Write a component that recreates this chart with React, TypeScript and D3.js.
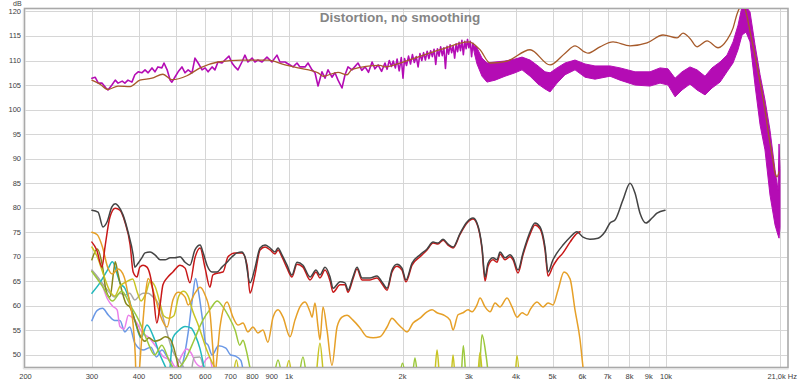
import React from 'react';
import * as d3 from 'd3';

type Pt = [number, number];

// ---------- axis ticks ----------
const xGridHz = [300, 400, 500, 600, 700, 800, 900, 1000, 2000, 3000, 4000, 5000, 6000, 7000, 8000, 9000, 10000, 20000];
const xTickHz = [200, 300, 400, 500, 600, 700, 800, 900, 1000, 2000, 3000, 4000, 5000, 6000, 7000, 8000, 9000, 10000];
const xTickLabels = ['200', '300', '400', '500', '600', '700', '800', '900', '1k', '2k', '3k', '4k', '5k', '6k', '7k', '8k', '9k', '10k'];
const xEndLabel = '21,0k Hz';
const yTicks = [50, 55, 60, 65, 70, 75, 80, 85, 90, 95, 100, 105, 110, 115, 120];
const yUnit = 'dB';
const title = 'Distortion, no smoothing';

// ---------- fundamental (smoothed) ----------
const fundamental: Pt[] = [
  [300, 106.0], [315, 105.2], [331, 104.1], [352, 104.8], [379, 104.7], [402, 106.0], [433, 106.4], [463, 107.2],
  [489, 106.1], [536, 106.9], [581, 108.5], [648, 109.7], [750, 110.1], [880, 110.1], [976, 109.1], [1057, 108.5],
  [1194, 107.5], [1231, 106.8], [1349, 107.6], [1425, 107.1], [1469, 108.2], [1743, 109.0], [1797, 108.7],
  [2006, 109.7], [2516, 112.2], [3000, 113.8], [3211, 112.2], [3414, 109.5], [3789, 109.9], [4359, 112.2],
  [4925, 109.1], [5400, 111.5], [5736, 113.0], [6098, 111.7], [6209, 111.5], [6682, 112.8], [7234, 113.8],
  [8026, 113.0], [8904, 113.6], [9818, 115.2], [10696, 114.6], [11092, 115.6], [11576, 114.5], [12084, 112.8],
  [12846, 114.0], [13740, 112.6], [14512, 114.2], [15058, 116.6], [15432, 119.5], [16008, 121.5], [16400, 119.0],
  [16706, 115.9], [17220, 111.0], [17760, 105.6], [18300, 99.9], [18757, 94.4], [19211, 89.7], [19460, 87.1],
  [19700, 86.3], [19942, 87.3],
];

// ---------- measured SPL (unsmoothed), 300 Hz - 3.1 kHz as a trace ----------
const splTrace: Pt[] = [
  [300, 106.4], [306, 106.6], [312, 105.4], [319, 105.4], [327, 104.4], [331, 104.0], [339, 105.0], [346, 106.0],
  [352, 105.4], [361, 105.8], [367, 105.4], [374, 106.0], [383, 105.6], [390, 107.1], [398, 107.7], [407, 107.5],
  [415, 108.1], [423, 107.5], [433, 108.5], [441, 107.7], [449, 108.7], [460, 108.5], [466, 109.5], [475, 108.1],
  [484, 106.0], [489, 105.6], [498, 106.6], [508, 107.7], [520, 108.7], [530, 107.5], [540, 108.1], [553, 107.5],
  [563, 110.5], [574, 109.5], [588, 108.1], [599, 108.5], [610, 107.7], [625, 108.7], [636, 108.1], [648, 109.7],
  [664, 109.5], [676, 110.1], [693, 110.9], [706, 109.5], [719, 108.7], [732, 108.1], [750, 109.7], [764, 111.1],
  [778, 109.7], [798, 110.5], [812, 109.7], [827, 110.1], [848, 109.7], [874, 110.7], [901, 109.7], [929, 111.1],
  [946, 109.7], [976, 109.7], [1006, 109.1], [1025, 108.7], [1050, 109.5], [1069, 108.7], [1103, 108.7],
  [1123, 109.5], [1151, 108.1], [1172, 107.5], [1194, 104.8], [1223, 107.7], [1246, 106.4], [1269, 108.1],
  [1300, 106.6], [1324, 107.5], [1349, 106.0], [1382, 104.4], [1408, 107.1], [1434, 108.7], [1469, 108.1],
  [1524, 109.5], [1560, 108.0], [1591, 108.7], [1625, 107.6], [1661, 109.7], [1690, 108.3], [1723, 109.1],
  [1760, 107.8], [1797, 109.5], [1820, 108.2], [1845, 110.0], [1870, 108.8], [1890, 109.9], [1915, 108.5],
  [1935, 110.3], [1960, 107.9], [1985, 110.6], [2006, 106.4], [2025, 110.4], [2050, 109.0], [2075, 110.9],
  [2100, 109.3], [2125, 111.2], [2150, 109.6], [2175, 110.8], [2200, 108.7], [2225, 111.4], [2250, 110.0],
  [2275, 111.6], [2300, 110.1], [2325, 111.9], [2350, 110.4], [2375, 112.0], [2400, 110.8], [2425, 112.3],
  [2450, 109.2], [2475, 112.4], [2500, 110.9], [2525, 112.8], [2550, 111.0], [2575, 112.6], [2600, 108.4],
  [2625, 112.9], [2650, 111.3], [2675, 113.2], [2700, 111.6], [2725, 113.0], [2750, 110.5], [2775, 113.4],
  [2800, 111.8], [2825, 113.7], [2850, 112.0], [2875, 114.1], [2900, 111.2], [2925, 113.9], [2950, 112.4],
  [2975, 114.3], [3000, 112.6], [3025, 113.9], [3050, 110.8], [3075, 113.5], [3100, 112.0], [3125, 112.8],
  [3150, 110.6],
];

// ---------- measured SPL above 3 kHz, dense noisy band (upper / lower envelope) ----------
const splBandHz = [
  3100, 3152, 3250, 3350, 3520, 3740, 3976, 4150, 4359,
  4576, 4776, 4925, 5140, 5397, 5736, 6098, 6480, 7103, 7550, 8277, 9069, 9641, 10124, 10568, 11029, 11576,
  12084, 12690, 13244, 13908, 14512, 15058, 15524, 15908, 16300, 16706, 17220, 17760, 18300, 18870, 19460,
  19820, 19942, 20060,
];
const splBandTop = [
  113.0, 112.6, 110.5, 109.5, 109.7, 109.9, 110.3,
  110.7, 110.1, 108.9, 107.7, 107.5, 108.5, 109.5, 110.1, 109.3, 108.9, 108.9, 108.5, 107.7, 107.7, 108.5, 108.3,
  106.4, 107.7, 108.7, 108.1, 106.8, 108.5, 109.7, 111.1, 113.8, 117.2, 121.0, 121.0, 119.9, 113.2, 107.1, 102.0,
  95.8, 87.7, 83.6, 93.0, 88.0,
];
const splBandBot = [
  111.6, 109.3, 106.8, 105.6, 106.0, 106.8, 107.5,
  108.1, 106.8, 105.2, 104.2, 103.6, 105.4, 107.1, 108.1, 106.6, 106.2, 106.8, 106.0, 105.0, 104.8, 105.4, 105.0,
  102.6, 104.0, 105.2, 104.0, 103.0, 104.4, 105.6, 107.7, 109.5, 112.2, 115.2, 115.8, 113.8, 105.0, 96.9, 91.8,
  82.6, 76.5, 74.4, 73.8, 76.0,
];

// ---------- THD ----------
const thd: Pt[] = [
  [300, 79.5], [311.5, 79.1], [321, 76.1], [329, 77.1], [339, 80.2], [346, 80.8], [352, 80.4], [363, 78.5],
  [374, 75.1], [386, 70.4], [390, 67.9], [398, 68.7], [407, 69.8], [415, 70.8], [428, 71.0], [441, 70.4],
  [455, 69.4], [469, 69.4], [484, 69.8], [498, 69.8], [514, 70.0], [530, 68.9], [546, 68.3], [563, 71.4],
  [581, 72.4], [591, 71.0], [606, 68.3], [625, 66.9], [644, 66.9], [664, 67.9], [685, 68.9], [706, 70.0],
  [728, 70.8], [750, 71.0], [764, 70.0], [788, 64.7], [812, 67.7], [838, 71.8], [864, 72.4], [891, 71.8],
  [918, 71.0], [935, 71.8], [958, 70.4], [988, 68.3], [1018, 66.3], [1050, 68.9], [1089, 68.3], [1137, 65.9],
  [1179, 67.3], [1208, 66.3], [1246, 67.9], [1285, 65.9], [1309, 63.6], [1366, 64.9], [1408, 64.7], [1434, 63.2],
  [1478, 65.9], [1515, 67.9], [1562, 65.7], [1640, 65.7], [1711, 66.1], [1764, 64.9], [1820, 63.6], [1876, 67.3],
  [1934, 68.5], [1994, 67.7], [2043, 65.3], [2120, 68.7], [2226, 70.4], [2323, 71.6], [2410, 73.0], [2484, 72.8],
  [2562, 73.6], [2641, 72.6], [2723, 72.0], [2843, 74.8], [2966, 77.1], [3076, 77.9], [3152, 76.9], [3250, 72.0],
  [3311, 65.9], [3372, 68.7], [3477, 69.8], [3562, 69.4], [3629, 71.0], [3741, 69.8], [3857, 70.4], [3928, 69.8],
  [4050, 67.3], [4175, 70.8], [4359, 75.1], [4491, 76.9], [4633, 76.1], [4776, 72.0], [4864, 66.9], [5014, 69.4],
  [5139, 70.8], [5330, 72.4], [5565, 74.0], [5806, 75.1], [6023, 74.0], [6285, 73.6], [6600, 73.8], [6889, 75.1],
  [7103, 76.9], [7322, 77.5], [7688, 81.6], [8026, 85.0], [8274, 83.0], [8531, 78.9], [8851, 76.9], [9181, 77.9],
  [9466, 78.9], [9938, 79.5],
];

// ---------- H2 ----------
const h2: Pt[] = [
  [300, 73.0], [309, 71.4], [319, 67.9], [325, 72.0], [335, 78.1], [346, 79.9], [356, 79.5], [367, 77.1],
  [379, 72.4], [386, 66.9], [395, 65.9], [402, 67.9], [410, 68.3], [420, 67.9], [428, 66.3], [436, 62.8],
  [446, 56.5], [455, 60.2], [463, 64.3], [475, 65.7], [492, 66.9], [514, 68.3], [530, 67.7], [546, 64.7],
  [563, 69.8], [581, 71.8], [599, 67.7], [617, 63.8], [628, 66.3], [648, 66.7], [668, 66.9], [689, 70.0],
  [719, 70.8], [750, 70.8], [774, 68.3], [788, 62.6], [812, 66.3], [838, 71.4], [864, 72.0], [891, 71.4],
  [918, 70.6], [935, 71.4], [958, 70.0], [988, 67.7], [1018, 65.9], [1050, 68.5], [1089, 67.9], [1137, 65.3],
  [1179, 66.9], [1208, 65.7], [1246, 67.3], [1285, 65.1], [1309, 62.8], [1366, 64.3], [1408, 64.3], [1434, 62.8],
  [1478, 65.5], [1515, 67.5], [1562, 65.3], [1640, 65.3], [1711, 65.7], [1764, 64.5], [1820, 63.2], [1876, 66.9],
  [1934, 68.1], [1994, 67.3], [2043, 64.9], [2120, 68.3], [2226, 70.0], [2323, 71.4], [2410, 72.8], [2484, 72.6],
  [2562, 73.4], [2641, 72.4], [2723, 71.8], [2843, 74.6], [2966, 76.9], [3076, 77.7], [3152, 76.7], [3250, 71.6],
  [3311, 65.1], [3372, 68.1], [3477, 69.4], [3562, 68.9], [3629, 70.6], [3741, 69.4], [3857, 70.0], [3928, 69.4],
  [4050, 66.7], [4175, 70.4], [4359, 74.6], [4491, 76.5], [4633, 75.7], [4776, 71.4], [4864, 66.1], [5014, 68.1],
  [5139, 69.4], [5330, 70.8], [5565, 73.0], [5806, 74.8], [5915, 75.1],
];

// ---------- H3 ----------
const h3: Pt[] = [
  [300, 75.0], [310, 74.5], [320, 72.0], [330, 68.0], [340, 66.5], [352, 67.5], [365, 66.0], [375, 62.0],
  [385, 57.0], [391, 50.0], [395, 40.0], [402, 48.0], [410, 57.0], [417, 63.0], [423, 65.6], [441, 61.9],
  [455, 58.2], [475, 55.7], [492, 61.2], [508, 62.8], [530, 61.8], [540, 60.2], [563, 62.6], [581, 63.8],
  [599, 62.2], [617, 58.6], [627, 52.0], [636, 46.0], [645, 50.0], [656, 55.7], [685, 60.8], [710, 57.7],
  [732, 56.1], [755, 56.5], [778, 54.7], [802, 55.7], [827, 54.5], [853, 55.1], [879, 52.6], [907, 57.7],
  [935, 59.2], [964, 57.7], [1006, 53.7], [1037, 57.1], [1069, 59.8], [1103, 60.8], [1137, 58.8], [1151, 57.7],
  [1172, 60.6], [1194, 55.7], [1208, 53.1], [1231, 59.8], [1261, 55.1], [1300, 47.9], [1341, 55.7], [1382, 57.7],
  [1425, 58.1], [1478, 57.1], [1543, 55.5], [1611, 53.7], [1671, 53.5], [1743, 53.7], [1820, 55.7], [1876, 57.5],
  [1934, 56.5], [1994, 55.5], [2056, 54.7], [2133, 56.5], [2226, 57.5], [2323, 58.8], [2395, 59.2], [2470, 58.6],
  [2562, 58.2], [2674, 57.1], [2723, 55.1], [2808, 58.2], [2895, 58.6], [2985, 59.2], [3058, 58.8], [3152, 60.2],
  [3211, 61.6], [3311, 59.8], [3414, 58.8], [3520, 60.6], [3629, 59.8], [3787, 61.6], [3904, 59.8], [4025, 57.7],
  [4150, 58.6], [4278, 58.1], [4359, 59.2], [4547, 60.8], [4718, 59.8], [4864, 60.6], [5014, 60.2], [5169, 63.2],
  [5362, 66.9], [5565, 65.5], [5735, 59.2], [5915, 53.1], [6023, 47.5], [6098, 44.0],
];

// ---------- H4 ----------
const h4: Pt[] = [
  [300, 72.0], [310, 70.0], [320, 67.0], [335, 63.0], [345, 62.0], [356, 64.0], [372, 65.0], [385, 65.5],
  [395, 63.0], [405, 61.0], [417, 62.5], [428, 65.0], [441, 64.0], [455, 60.5], [465, 58.0], [480, 57.5],
  [495, 58.0], [510, 62.0], [525, 63.0], [540, 62.0], [555, 59.0], [575, 56.0], [590, 53.5], [605, 51.0],
  [625, 48.5], [640, 47.0], [660, 44.0], [700, 43.0], [725, 49.0], [745, 44.0], [960, 43.0], [1000, 48.9],
  [1030, 43.0], [1170, 44.0], [1208, 52.4], [1245, 44.0], [2420, 44.0], [2470, 51.0], [2520, 44.0],
  [2680, 44.0], [2723, 50.0], [2770, 44.0], [3150, 44.0], [3211, 50.5], [3280, 44.0], [3960, 44.0],
  [4025, 49.9], [4090, 44.0],
];

// ---------- H5 ----------
const h5: Pt[] = [
  [300, 67.0], [320, 64.0], [340, 61.0], [360, 63.0], [380, 60.0], [400, 57.0], [420, 53.0], [440, 50.0],
  [460, 52.0], [480, 49.0], [500, 47.0], [530, 49.0], [560, 53.0], [590, 57.0], [620, 59.5], [645, 61.0],
  [665, 60.0], [690, 58.0], [720, 55.0], [740, 52.0], [755, 53.0], [770, 51.0], [790, 47.0], [810, 44.0],
  [900, 44.0], [935, 49.0], [970, 44.0], [1050, 44.0], [1089, 49.6], [1125, 44.0], [1940, 44.0], [2000, 48.3],
  [2060, 44.0], [2110, 44.0], [2158, 49.4], [2210, 44.0], [2850, 44.0], [2900, 51.9], [2960, 44.0],
  [3180, 44.0], [3250, 54.1], [3330, 50.0], [3400, 44.0],
];

// ---------- H6 ----------
const h6: Pt[] = [
  [300, 67.3], [315, 65.3], [330, 63.2], [345, 61.8], [356, 62.6], [367, 62.2], [378, 62.6], [390, 61.2],
  [402, 62.2], [410, 62.6], [423, 62.6], [436, 61.8], [450, 60.5], [463, 57.7], [475, 54.5], [490, 51.0],
  [515, 48.5], [530, 47.0], [545, 45.0], [560, 49.5], [580, 49.6], [600, 46.0], [615, 44.0],
];

// ---------- H7 ----------
const h7: Pt[] = [
  [300, 62.6], [315, 64.7], [330, 67.3], [340, 69.0], [350, 66.5], [356, 64.7], [367, 63.6], [375, 61.8],
  [390, 57.0], [405, 53.5], [420, 56.1], [436, 53.9], [455, 50.0], [470, 47.6], [480, 46.0], [492, 53.5],
  [510, 55.0], [530, 55.8], [550, 55.5], [565, 53.9], [580, 51.4], [595, 47.6], [605, 45.0],
];

// ---------- H8 ----------
const h8: Pt[] = [
  [300, 57.0], [310, 59.1], [320, 59.5], [332, 58.1], [345, 57.0], [356, 57.0], [367, 54.7], [378, 55.7],
  [390, 52.4], [410, 51.0], [430, 51.6], [445, 49.6], [460, 51.0], [475, 49.6], [490, 47.6], [505, 45.0],
  [520, 47.6], [540, 54.5], [555, 61.8], [565, 65.6], [575, 63.0], [590, 57.0], [600, 52.6], [610, 52.0],
  [625, 50.0], [650, 51.9], [680, 51.4], [700, 50.0], [720, 49.8], [745, 48.9], [760, 46.0], [775, 44.0],
];

// ---------- H9 ----------
const h9: Pt[] = [
  [300, 67.1], [310, 65.9], [320, 64.1], [330, 61.4], [340, 60.0], [350, 59.2], [356, 55.8], [365, 55.3],
  [375, 58.1], [385, 57.5], [395, 56.5], [405, 54.9], [425, 53.5], [445, 51.6], [465, 49.6], [485, 49.0],
  [500, 47.5], [520, 50.0], [535, 51.2], [550, 50.4], [565, 48.5], [585, 47.6], [600, 48.9], [615, 49.6],
  [630, 46.0], [640, 44.0],
];

// ---------- extra low-level component ----------
const hx: Pt[] = [
  [300, 69.4], [310, 71.6], [320, 68.1], [327, 63.2], [335, 61.8], [342, 66.5], [346, 69.0], [352, 66.5],
  [360, 63.2], [370, 60.4], [378, 59.8], [390, 57.1], [402, 54.1], [415, 52.8], [425, 53.5], [440, 52.8],
  [455, 53.1], [470, 53.7], [483, 53.3], [495, 51.4], [505, 48.7], [515, 46.0], [525, 44.0],
];

const W = 800;
const H = 382;
const L = 25.5;
const R = 787.5;
const T = 9;
const B = 367;

export default function App() {
  const x = d3.scaleLog().domain([200, 21000]).range([L, R]);
  const y = d3.scaleLinear().domain([47.55, 120.5]).range([B, T]);

  const smooth = d3
    .line<Pt>()
    .x((d) => x(d[0]))
    .y((d) => y(d[1]))
    .curve(d3.curveMonotoneX);
  const straight = d3
    .line<Pt>()
    .x((d) => x(d[0]))
    .y((d) => y(d[1]));

  const bandData = splBandHz.map((f, i) => ({ f, t: splBandTop[i], b: splBandBot[i] }));
  const band = d3
    .area<{ f: number; t: number; b: number }>()
    .x((d) => x(d.f))
    .y0((d) => y(d.b))
    .y1((d) => y(d.t));

  const harmonics: { data: Pt[]; color: string }[] = [
    { data: h8, color: '#6a98e6' },
    { data: h9, color: '#ea80ea' },
    { data: h6, color: '#a8a8a8' },
    { data: h7, color: '#22b8bc' },
    { data: hx, color: '#86861a' },
    { data: h5, color: '#9cc83c' },
    { data: h4, color: '#c8c424' },
    { data: h3, color: '#e6a028' },
  ];

  const font = 'Liberation Sans, Arial, sans-serif';

  return (
    <svg
      width={W}
      height={H}
      viewBox={`0 0 ${W} ${H}`}
      style={{ position: 'absolute', left: 0, top: 0, background: '#ffffff' }}
    >
      <defs>
        <clipPath id="plotClip">
          <rect x={L} y={T} width={R - L} height={B - T} />
        </clipPath>
      </defs>
      <rect x={0} y={0} width={W} height={H} fill="#ffffff" />

      {/* grid */}
      <g stroke="#d6d6d6" strokeWidth={1}>
        {yTicks.map((v) => (
          <line key={'h' + v} x1={L} x2={R} y1={Math.round(y(v)) + 0.5} y2={Math.round(y(v)) + 0.5} />
        ))}
        {xGridHz.map((f) => (
          <line key={'v' + f} x1={Math.round(x(f)) + 0.5} x2={Math.round(x(f)) + 0.5} y1={T} y2={B} />
        ))}
      </g>

      {/* frame */}
      <rect x={L - 1} y={T - 0.5} width={R - L + 1.5} height={B - T + 1} fill="none" stroke="#a9a9a9" strokeWidth={1.6} />
      <line x1={L - 2.2} x2={L - 2.2} y1={T} y2={B + 2} stroke="#dcdcdc" strokeWidth={1} />
      <line x1={L - 2} x2={R + 1} y1={B + 2} y2={B + 2} stroke="#dcdcdc" strokeWidth={1} />

      {/* title */}
      <text x={400} y={21.5} textAnchor="middle" fontFamily={font} fontWeight="bold" fontSize={13.5} fill="#858585">
        {title}
      </text>

      <g clipPath="url(#plotClip)" fill="none" strokeLinejoin="round" strokeLinecap="round">
        {harmonics.map((h, i) => (
          <path key={i} d={smooth(h.data) || ''} stroke={h.color} strokeWidth={1.5} />
        ))}
        <path d={smooth(h2) || ''} stroke="#c81818" strokeWidth={1.5} />
        <path d={smooth(thd) || ''} stroke="#444444" strokeWidth={1.5} />
        <path d={band(bandData) || ''} fill="#b40cb4" stroke="#b40cb4" strokeWidth={1} />
        <path d={straight(splTrace) || ''} stroke="#b40cb4" strokeWidth={1.6} />
        <path d={smooth(fundamental) || ''} stroke="#a65a2a" strokeWidth={1.3} />
      </g>

      {/* y labels */}
      <text x={13} y={6} fontFamily={font} fontSize={7} fill="#404040">
        {yUnit}
      </text>
      {yTicks.map((v) => (
        <text key={'yl' + v} x={21} y={y(v) + 2.5} textAnchor="end" fontFamily={font} fontSize={7.5} fill="#404040">
          {v}
        </text>
      ))}

      {/* x labels */}
      {xTickHz.map((f, i) => (
        <text key={'xl' + f} x={x(f)} y={378.5} textAnchor="middle" fontFamily={font} fontSize={7.5} fill="#404040">
          {xTickLabels[i]}
        </text>
      ))}
      <text x={797} y={378.5} textAnchor="end" fontFamily={font} fontSize={7.5} fill="#404040">
        {xEndLabel}
      </text>
    </svg>
  );
}
